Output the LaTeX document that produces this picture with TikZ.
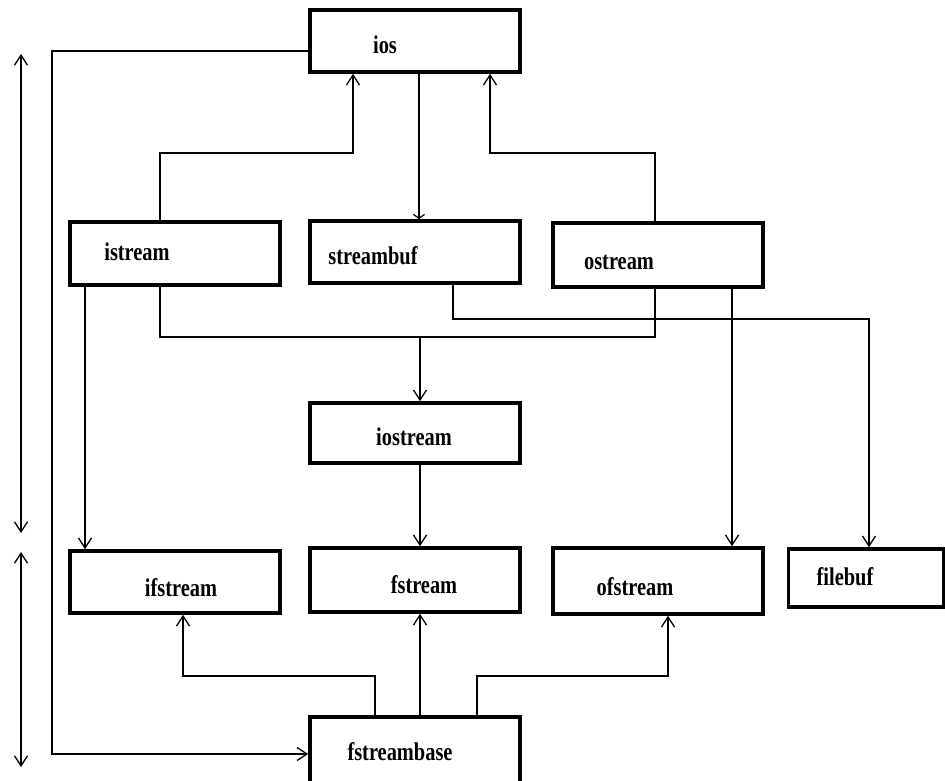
\documentclass[tikz,border=0pt]{standalone}
\usepackage{fontspec}
\newfontfamily\boxfont[FakeStretch=0.8]{Liberation Serif}
\usetikzlibrary{arrows.meta}
\begin{document}
\begin{tikzpicture}[x=1pt,y=-1pt,
  box/.style={draw, line width=3.6pt, minimum width=210pt, inner sep=0pt},
  txt/.style={font=\boxfont\bfseries\fontsize{25.5}{30}\selectfont, inner sep=0pt},
  conn/.style={line width=1.3pt},
  arr/.style={conn, -{Straight Barb[length=10pt,width=13pt,line width=1.3pt]}},
  dbl/.style={conn, {Straight Barb[length=10pt,width=13pt,line width=1.3pt]}-{Straight Barb[length=10pt,width=13pt,line width=1.3pt]}},
  small/.style={conn, -{Straight Barb[length=4pt,width=11pt,line width=1.3pt]}}]
\useasboundingbox (0,0) rectangle (945,781);
\clip (0,0) rectangle (945,781);
\fill[white] (0,0) rectangle (945,781);

% class boxes
\node[box, minimum height=62pt] (ios)        at (415,41)    {};
\node[box, minimum height=63pt] (istream)    at (175,253.5) {};
\node[box, minimum height=62pt] (streambuf)  at (415,252)   {};
\node[box, minimum height=64pt] (ostream)    at (658,255)   {};
\node[box, minimum height=60pt] (iostream)   at (415,433)   {};
\node[box, minimum height=62pt] (ifstream)   at (175,582)   {};
\node[box, minimum height=64pt] (fstream)    at (415,580)   {};
\node[box, minimum height=66pt] (ofstream)   at (658,581)   {};
\node[box, minimum height=58pt, minimum width=155pt] (filebuf) at (866,578) {};
\node[box, minimum height=83pt] (fstreambase) at (415,758.5) {};

% class names
\node[txt] (t-ios)         at (385,45)  {ios};
\node[txt] (t-istream)     at (137,252) {istream};
\node[txt] (t-streambuf)   at (373,256) {streambuf};
\node[txt] (t-ostream)     at (619,262) {ostream};
\node[txt] (t-iostream)    at (414,437) {iostream};
\node[txt] (t-ifstream)    at (181,588) {ifstream};
\node[txt] (t-fstream)     at (424,585) {fstream};
\node[txt] (t-ofstream)    at (635,587) {ofstream};
\node[txt] (t-filebuf)     at (845,577) {filebuf};
\node[txt] (t-fstreambase) at (400,752) {fstreambase};

% routing points
\coordinate (lt) at (52,51);
\coordinate (lb) at (52,754);
\coordinate (ia) at (160,153);
\coordinate (ib) at (353,0);
\coordinate (oa) at (655,153);
\coordinate (ob) at (490,0);
\coordinate (sa) at (419,0);
\coordinate (sb) at (453,319);
\coordinate (fb) at (869,0);
\coordinate (ja) at (160,337);
\coordinate (jb) at (655,337);
\coordinate (jc) at (420,337);
\coordinate (ka) at (85,0);
\coordinate (kb) at (732,0);
\coordinate (ma) at (375,676);
\coordinate (mb) at (183,0);
\coordinate (mc) at (420,0);
\coordinate (md) at (477,676);
\coordinate (me) at (668,0);

% level markers on the left
\coordinate (u1) at (21,54);
\coordinate (u2) at (21,533);
\coordinate (v1) at (21,552);
\coordinate (v2) at (21,767);
\draw[dbl] (u1) -- (u2);
\draw[dbl] (v1) -- (v2);

% connectors
\draw[arr] (ios.west |- lt) -- (lt) -- (lb) -- (fstreambase.west |- lb);
\draw[arr] (istream.north -| ia) -- (ia) -| (ios.south -| ib);
\draw[arr] (ostream.north -| oa) -- (oa) -| (ios.south -| ob);
\draw[small] (ios.south -| sa) -- (streambuf.north -| sa);
\draw[arr] (streambuf.south -| sb) -- (sb) -| (filebuf.north -| fb);
\draw[arr] (istream.south -| ka) -- (ifstream.north -| ka);
\draw[conn] (istream.south -| ja) -- (ja) -- (jb) -- (ostream.south -| jb);
\draw[arr] (jc) -- (iostream.north -| jc);
\draw[arr] (ostream.south -| kb) -- (ofstream.north -| kb);
\draw[arr] (iostream.south -| mc) -- (fstream.north -| mc);
\draw[arr] (fstreambase.north -| ma) -- (ma) -| (ifstream.south -| mb);
\draw[arr] (fstreambase.north -| mc) -- (fstream.south -| mc);
\draw[arr] (fstreambase.north -| md) -- (md) -| (ofstream.south -| me);
\end{tikzpicture}
\end{document}
